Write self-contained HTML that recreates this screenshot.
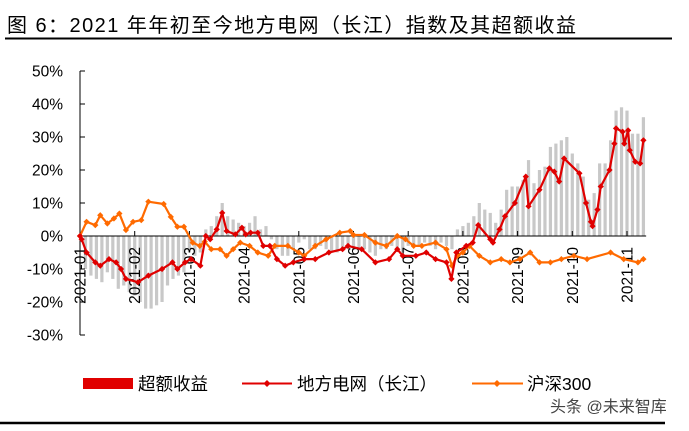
<!DOCTYPE html>
<html><head><meta charset="utf-8"><style>
body{margin:0;background:#fff;width:689px;height:426px;overflow:hidden;font-family:"Liberation Sans","Noto Sans CJK SC",sans-serif}
</style></head><body>
<svg id="c" width="689" height="426" xmlns="http://www.w3.org/2000/svg" style="font-family:'Liberation Sans','Noto Sans CJK SC',sans-serif">
<text x="7" y="32" font-size="20" fill="#000" textLength="569" lengthAdjust="spacing">图 6：2021 年年初至今地方电网（长江）指数及其超额收益</text>
<line x1="5" y1="38.5" x2="672" y2="38.5" stroke="#000" stroke-width="2"/>
<g id="plot"></g>
<g>
<g><rect x="83" y="378" width="50" height="11" fill="#e00000"/><text x="138" y="390" font-size="17.5">超额收益</text></g>
<g><line x1="242" y1="383.5" x2="292" y2="383.5" stroke="#e00000" stroke-width="2"/><rect x="264.5" y="381" width="5" height="5" fill="#e00000" transform="rotate(45 267 383.5)"/><text x="297" y="390" font-size="17.5">地方电网（长江）</text></g>
<g><line x1="472" y1="383.5" x2="523" y2="383.5" stroke="#ff6a00" stroke-width="2"/><rect x="494.5" y="381" width="5" height="5" fill="#ff6a00" transform="rotate(45 497 383.5)"/><text x="527" y="390" font-size="17.5">沪深300</text></g>
</g>
<text x="550" y="412" font-size="16" fill="#444">头条 @未来智库</text>
<line x1="0" y1="423" x2="665" y2="423" stroke="#000" stroke-width="2.5"/>
</svg>
<script>
const yTicks=[50,40,30,20,10,0,-10,-20,-30];
const xTickLabels=["2021-01","2021-02","2021-03","2021-04","2021-05","2021-06","2021-07","2021-08","2021-09","2021-10","2021-11"];
const barMonths=[0,.1,.2,.3,.4,.5,.6,.7,.8,.9,1,1.1,1.2,1.3,1.4,1.5,1.6,1.7,1.8,1.9,2,2.1,2.2,2.3,2.4,2.5,2.6,2.7,2.8,2.9,3,3.1,3.2,3.3,3.4,3.5,3.6,3.7,3.8,3.9,4,4.1,4.2,4.3,4.4,4.5,4.6,4.7,4.8,4.9,5,5.1,5.2,5.3,5.4,5.5,5.6,5.7,5.8,5.9,6,6.1,6.2,6.3,6.4,6.5,6.6,6.7,6.8,6.9,7,7.1,7.2,7.3,7.4,7.5,7.6,7.7,7.8,7.9,8,8.1,8.2,8.3,8.4,8.5,8.6,8.7,8.8,8.9,9,9.1,9.2,9.3,9.4,9.5,9.6,9.7,9.8,9.9,10,10.1,10.2,10.3];
const excessValues=[0,-10,-12,-13,-14,-11,-13,-16,-15,-17,-18,-20,-22,-22,-21,-20,-15,-13,-12,-11,-5,-6,-5,2,3,6,10,6,5,4,3,4,6,2,3,-1,-4,-6,-6,-4,-2,-1,-4,-4,-3,-4,-5,-5,-4,-4,-4,-4,-4,-5,-6,-4,-4,-3,-4,-5,-3,-3,-3,-2,-3,-4,-2,-3,-4,2,3,4,6,10,8,7,4,8,14,15,15,17,23,16,20,21,27,28,29,30,25,22,18,11,13,22,22,29,38,39,38,31,31,36];
const localMonths=[0,.03,.12,.28,.37,.53,.66,.75,.84,1.06,1.25,1.5,1.69,1.78,1.92,2.03,2.2,2.3,2.38,2.5,2.6,2.68,2.84,2.96,3.03,3.12,3.25,3.35,3.47,3.6,3.75,3.9,4.1,4.3,4.55,4.8,4.9,5.15,5.4,5.65,5.8,5.9,6.14,6.33,6.5,6.7,6.79,6.88,7.06,7.18,7.28,7.5,7.55,7.67,7.77,7.95,8.15,8.2,8.4,8.58,8.67,8.76,8.85,9.13,9.25,9.34,9.37,9.46,9.52,9.68,9.77,9.8,9.92,9.95,10.02,10.05,10.15,10.24,10.3];
const localValues=[0,-1,-5,-8,-9,-7,-8,-10,-13,-14,-12,-10,-8,-10,-8,-7,-9,0,-1,2,7,1.5,0.5,2.5,0.5,1,1,-3,-3,-7,-9,-8,-7,-7,-5,-4,-3,-4,-8,-7,-4,-6,-6,-5,-7,-8,-13,-5,-3,-2,3.3,-1,-2,2,6,10,18,9,14,20.5,19.5,16.5,23.5,19,10,4.3,3,8,15,20,28,32.6,31.6,28,32,26,22.5,22,29];
const hsMonths=[0,.12,.28,.37,.5,.62,.72,.84,.97,1.12,1.25,1.53,1.66,1.78,1.9,2.06,2.19,2.28,2.4,2.56,2.68,2.8,2.93,3.1,3.25,3.44,3.56,3.8,4,4.1,4.3,4.5,4.75,4.94,5.0,5.2,5.4,5.6,5.8,5.95,6.1,6.25,6.5,6.7,6.8,6.9,7,7.12,7.3,7.5,7.7,7.86,8.04,8.23,8.4,8.6,8.8,9.03,9.27,9.7,9.94,10.2,10.3];
const hsValues=[0,4.3,3.3,6.3,3.8,5.3,6.8,1.8,4.3,4.8,10.4,9.7,5.8,2.8,2.8,-2,-3,-1.7,-4,-4,-6,-4,-2,-3,-5,-6,-3,-3,-5,-6,-3,-1,1,1.5,0.3,0.3,-2,-3,0,-1,-3,-3,-2,-4,-9,-6,-5,-3,-6,-8,-7,-8,-7,-5,-8,-8,-7,-6,-7,-5,-7,-8,-7];

const NS="http://www.w3.org/2000/svg";
const plot=document.getElementById('plot');
const X0=80,PX=54.7,Y0=236,PY=3.3;
function xs(m){return X0+m*PX;}
function ys(v){return Y0-v*PY;}
function mk(t,a,p){const e=document.createElementNS(NS,t);for(const k in a)e.setAttribute(k,a[k]);(p||plot).appendChild(e);return e;}

const gb=mk('g',{});


barMonths.forEach((m,i)=>{const v=excessValues[i];const y=Math.min(ys(v),ys(0));const b=mk('rect',{x:xs(m)-1.6,y:y,width:3.2,height:Math.abs(ys(v)-ys(0)),fill:'#c8c8c8'},gb);

});

const ya=mk('line',{x1:X0,y1:ys(50),x2:X0,y2:ys(-30),stroke:'#000','stroke-width':1});


yTicks.forEach(v=>{mk('line',{x1:X0,y1:ys(v),x2:X0+5,y2:ys(v),stroke:'#000'});
const t=mk('text',{x:63,y:ys(v)+5.5,'text-anchor':'end','font-size':15.5});t.textContent=v+'%';

});
const xa=mk('line',{x1:X0,y1:Y0,x2:xs(10.35),y2:Y0,stroke:'#000','stroke-width':1});


xTickLabels.forEach((l,i)=>{const x=xs(i);mk('line',{x1:x,y1:Y0-5,x2:x,y2:Y0,stroke:'#000'});
const t=mk('text',{x:x+5.5,y:247,'text-anchor':'end','font-size':15.5,transform:`rotate(-90 ${x+5.5} 247)`});
t.textContent=l;

});

function series(ms,vs,col,name){
const g=mk('g',{});


mk('polyline',{points:ms.map((m,i)=>xs(m)+','+ys(vs[i])).join(' '),fill:'none',stroke:col,'stroke-width':2.2,'stroke-linejoin':'round'},g);
ms.forEach((m,i)=>{const x=xs(m),y=ys(vs[i]);mk('rect',{x:x-2.2,y:y-2.2,width:4.4,height:4.4,fill:col,transform:`rotate(45 ${x} ${y})`},g);});
}
series(hsMonths,hsValues,'#ff6a00','hs300-line');
series(localMonths,localValues,'#e00000','local-grid-line');
</script>
</body></html>
